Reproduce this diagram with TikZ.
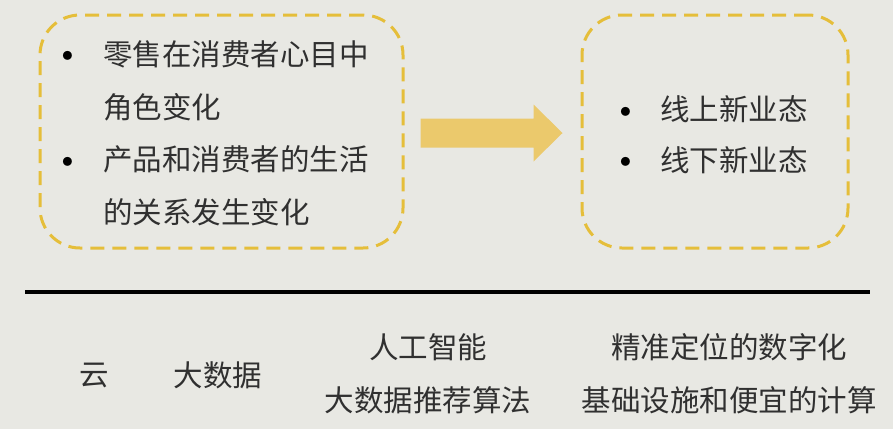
\documentclass[tikz,border=0pt]{standalone}
\usepackage{fontspec}
\newfontfamily\cjk{Noto Sans CJK SC}
\usetikzlibrary{calc}
\definecolor{bgc}{HTML}{E8E8E3}
\definecolor{dashc}{HTML}{E5BE3A}
\definecolor{arrc}{HTML}{EBC96C}
\definecolor{txtc}{HTML}{303030}

\begin{document}
\begin{tikzpicture}[x=1pt,y=-1pt,
  dbox/.style={draw=dashc,line width=3pt,dash pattern=on 14pt off 8pt,rounded corners=40pt,minimum height=233pt,inner sep=0pt},
  txt/.style={text=txtc,font=\cjk\fontsize{29.5}{53}\selectfont,inner sep=0pt},
  bul/.style={text=black,font=\fontsize{40}{40}\selectfont,inner sep=0pt,anchor=base,yshift=-12.5pt}]
\useasboundingbox (0,0) rectangle (893,429);
\fill[bgc] (0,0) rectangle (893,429);
% top: two dashed boxes and the block arrow
\node[dbox,minimum width=363pt] (left) at (221.5,131.5) {};
\node[dbox,minimum width=266pt] (right) at (715,131.5) {};
\node[bul] (b1) at (68,53.5) {\textbullet};
\node[txt,anchor=west,align=left] (t1) at (103,80.5) {零售在消费者心目中\\角色变化};
\node[bul] (b2) at (68,160) {\textbullet};
\node[txt,anchor=west,align=left] (t2) at (103,186) {产品和消费者的生活\\的关系发生变化};
\node[bul] (b3) at (626,109.5) {\textbullet};
\node[txt,anchor=west] (t3) at (660,109.5) {线上新业态};
\node[bul] (b4) at (626,160) {\textbullet};
\node[txt,anchor=west] (t4) at (660,160) {线下新业态};
\coordinate (a) at ($(left.east)+(16,1.5)$);
\coordinate (b) at ($(right.west)+(-18,1.5)$);
\fill[arrc] ($(a)+(0,-14.5)$) -- ($(b)+(-29,-14.5)$) -- ($(b)+(-29,-28.5)$) -- (b)
  -- ($(b)+(-29,28.5)$) -- ($(b)+(-29,14.5)$) -- ($(a)+(0,14.5)$) -- cycle;
% rule and the bottom row
\coordinate (r1) at (25,292);
\coordinate (r2) at (870,292);
\draw[line width=4pt,black] (r1) -- (r2);
\node[txt] (yun) at (94,376) {云};
\node[txt] (dsj) at (218,375) {大数据};
\node[txt,align=center] (ai) at (428,374) {人工智能\\大数据推荐算法};
\node[txt,align=center] (jz) at (729,374) {精准定位的数字化\\基础设施和便宜的计算};
\end{tikzpicture}
\end{document}
